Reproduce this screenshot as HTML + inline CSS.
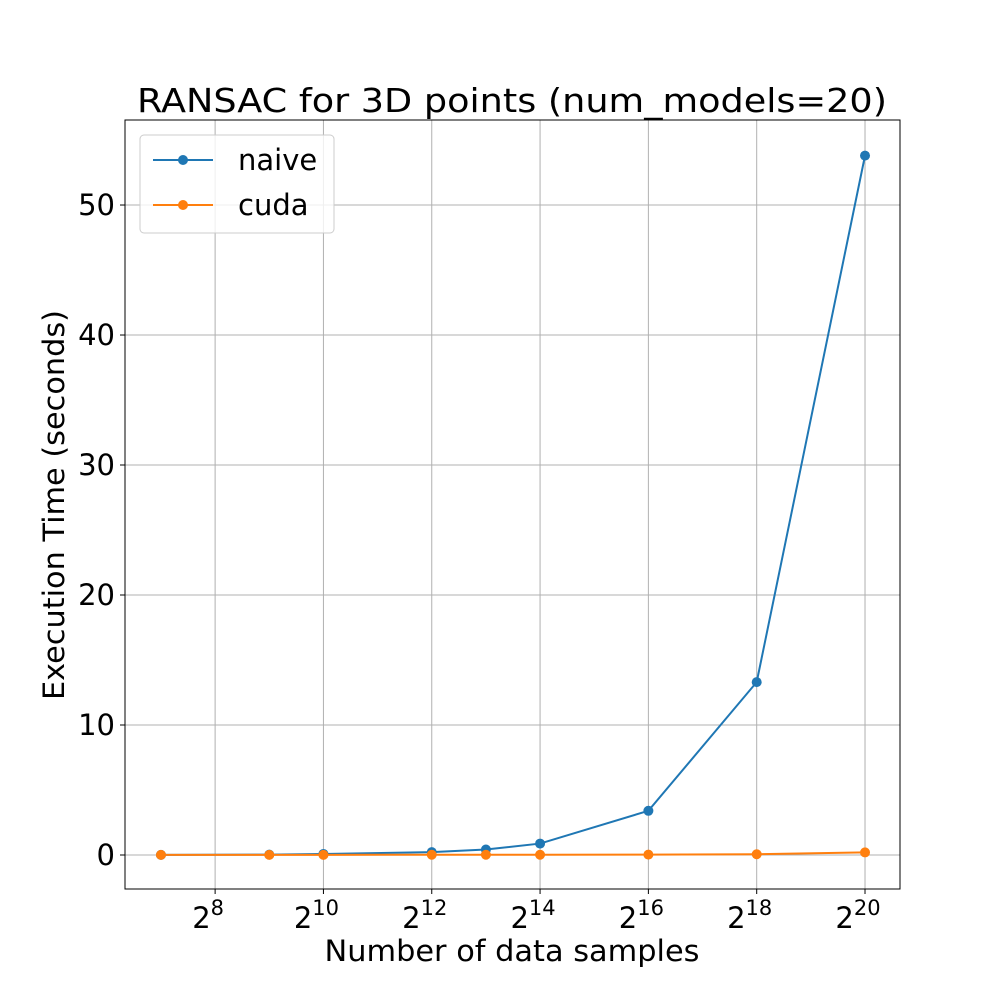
<!DOCTYPE html>
<html><head><meta charset="utf-8"><style>
body{margin:0;background:#fff;}
svg{font-family:"DejaVu Sans","Liberation Sans",sans-serif;}
</style></head><body>
<svg id="chart" width="1000" height="1000" xmlns="http://www.w3.org/2000/svg">
<rect width="1000" height="1000" fill="#fff"/>
<g id="grid"></g>
<g id="series"></g>
<rect x="125" y="120" width="775" height="769" fill="none" stroke="#000" stroke-width="1"/>
<g id="ticks"></g>
<text x="512" y="112" text-anchor="middle" font-size="33" textLength="750" lengthAdjust="spacingAndGlyphs">RANSAC for 3D points (num_models=20)</text>
<text x="512" y="961" text-anchor="middle" font-size="29" textLength="375" lengthAdjust="spacingAndGlyphs">Number of data samples</text>
<text transform="translate(64,505) rotate(-90)" text-anchor="middle" font-size="29" textLength="390" lengthAdjust="spacingAndGlyphs">Execution Time (seconds)</text>
<g>
<rect x="140" y="135" width="194" height="98" rx="4" fill="#fff" fill-opacity="0.8" stroke="#ccc"/>
<g>
<line x1="153" y1="160" x2="213" y2="160" stroke="#1f77b4" stroke-width="2"/><circle cx="183" cy="160" r="5" fill="#1f77b4"/>
<text x="238" y="170" font-size="29">naive</text></g>
<g>
<line x1="153" y1="205" x2="213" y2="205" stroke="#ff7f0e" stroke-width="2"/><circle cx="183" cy="205" r="5" fill="#ff7f0e"/>
<text x="238" y="215" font-size="29">cuda</text></g>
</g>
</svg>
<script>
const exponents=[7,9,10,12,13,14,16,18,20];
const naive=[0.01,0.03,0.08,0.22,0.42,0.88,3.4,13.3,53.8];
const cuda=[0.01,0.01,0.01,0.02,0.02,0.02,0.03,0.06,0.2];
const xTicks=[8,10,12,14,16,18,20];
const yTicks=[0,10,20,30,40,50];
const X0=125,X1=900,Y0=889,Y1=120;
const xmin=6.336,xmax=20.646,ymin=-2.615,ymax=56.54;
const xs=e=>X0+(e-xmin)/(xmax-xmin)*(X1-X0);
const ys=v=>Y0-(v-ymin)/(ymax-ymin)*(Y0-Y1);
const NS="http://www.w3.org/2000/svg";
function mk(t,a,p){const el=document.createElementNS(NS,t);for(const k in a)el.setAttribute(k,a[k]);p.appendChild(el);return el;}
const grid=document.getElementById('grid'),ticks=document.getElementById('ticks'),ser=document.getElementById('series');
xTicks.forEach(e=>{const x=xs(e);
const g=mk('line',{x1:x,x2:x,y1:Y1,y2:Y0,stroke:'#b0b0b0','stroke-width':1},grid);


mk('line',{x1:x,x2:x,y1:Y0,y2:Y0+5,stroke:'#000'},ticks);
const t=mk('text',{x:x-7,y:Y0+39,'text-anchor':'middle','font-size':29},ticks);


t.textContent='2';const s=mk('tspan',{dy:-13,'font-size':21,'text-anchor':'start'},t);s.textContent=e;});
yTicks.forEach(v=>{const y=ys(v);
const g=mk('line',{x1:X0,x2:X1,y1:y,y2:y,stroke:'#b0b0b0','stroke-width':1},grid);


mk('line',{x1:X0-5,x2:X0,y1:y,y2:y,stroke:'#000'},ticks);
const t=mk('text',{x:X0-10,y:y+10,'text-anchor':'end','font-size':29},ticks);


t.textContent=v;});
[[naive,'#1f77b4','naive'],[cuda,'#ff7f0e','cuda']].forEach(([d,c,n])=>{
const pts=d.map((v,i)=>xs(exponents[i])+','+ys(v)).join(' ');
const l=mk('polyline',{points:pts,fill:'none',stroke:c,'stroke-width':2},ser);


d.forEach((v,i)=>{const p=mk('circle',{cx:xs(exponents[i]),cy:ys(v),r:5,fill:c},ser);

});});
</script>
</body></html>
